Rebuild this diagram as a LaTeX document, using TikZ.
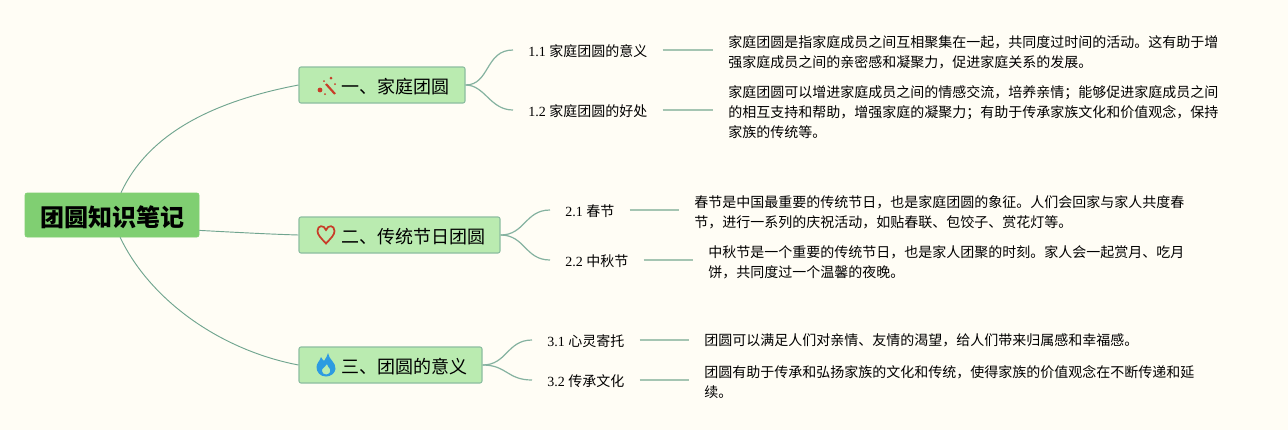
\documentclass[tikz,border=0pt]{standalone}
\usepackage{fontspec}
\setmainfont{Liberation Serif}
\newfontfamily\cjk{Noto Sans CJK SC}
\usetikzlibrary{positioning}
\definecolor{paper}{RGB}{255,253,245}
\definecolor{rootgreen}{RGB}{128,207,114}
\definecolor{boxgreen}{RGB}{186,235,176}
\definecolor{boxline}{RGB}{140,190,160}
\definecolor{rootline}{RGB}{112,165,143}
\definecolor{subline}{RGB}{165,197,178}
\definecolor{wandred}{RGB}{200,60,40}
\definecolor{flameblue}{RGB}{45,155,225}
\newcommand{\dropline}{\rule{0pt}{12.2pt}}
\tikzset{
    rootbox/.style={
        draw=rootgreen,
        fill=rootgreen,
        rounded corners=1.5pt,
        inner sep=0pt,
        minimum width=130.5pt,
        minimum height=33pt,
        text height=19.5pt,
        text depth=2pt,
        font=\cjk\bfseries\fontsize{18}{20}\selectfont
    },
    branchbox/.style={
        draw=boxline,
        line width=0.8pt,
        fill=boxgreen,
        rounded corners=1.5pt,
        inner sep=0pt,
        minimum height=27pt,
        text height=14.1pt,
        text depth=1.6pt,
        font=\cjk\fontsize{13.5}{16}\selectfont
    },
    sublabel/.style={
        anchor=west,
        inner xsep=11.25pt,
        inner ysep=2pt,
        text height=10.3pt,
        text depth=1.3pt,
        font=\fontsize{10.5}{15}\selectfont
    },
    detail/.style={
        anchor=west,
        inner xsep=11.25pt,
        inner ysep=2pt,
        align=left,
        font=\cjk\fontsize{10.5}{15}\selectfont
    },
    mainlink/.style={line width=0.7pt,rootline},
    forklink/.style={line width=0.9pt,rootline!85},
    sublink/.style={line width=1.2pt,subline}
}
\begin{document}
\begin{tikzpicture}[x=0.75pt,y=-0.75pt]
    \useasboundingbox[fill=paper] (0,0) rectangle (1288,430);

    \node[rootbox] (root) at (112,215) {团圆知识笔记};
    \node[branchbox,minimum width=124.5pt] (b1) at (382,85) {\hspace*{20.25pt}一、家庭团圆};
    \node[branchbox,minimum width=150.75pt] (b2) at (399.5,235) {\hspace*{20.25pt}二、传统节日团圆};
    \node[branchbox,minimum width=137.25pt] (b3) at (390.5,365) {\hspace*{20.25pt}三、团圆的意义};

    \node[sublabel] (s11) at (513,50) {1.1 {\cjk 家庭团圆的意义}};
    \node[sublabel] (s12) at (513,110) {1.2 {\cjk 家庭团圆的好处}};
    \node[sublabel] (s21) at (550,210) {2.1 {\cjk 春节}};
    \node[sublabel] (s22) at (550,260) {2.2 {\cjk 中秋节}};
    \node[sublabel] (s31) at (532,340) {3.1 {\cjk 心灵寄托}};
    \node[sublabel] (s32) at (532,380) {3.2 {\cjk 传承文化}};

    \node[detail] (d11) at (713,50) {\dropline 家庭团圆是指家庭成员之间互相聚集在一起，共同度过时间的活动。这有助于增\\强家庭成员之间的亲密感和凝聚力，促进家庭关系的发展。};
    \node[detail] (d12) at (713,110) {\dropline 家庭团圆可以增进家庭成员之间的情感交流，培养亲情；能够促进家庭成员之间\\的相互支持和帮助，增强家庭的凝聚力；有助于传承家族文化和价值观念，保持\\家族的传统等。};
    \node[detail] (d21) at (679,210) {\dropline 春节是中国最重要的传统节日，也是家庭团圆的象征。人们会回家与家人共度春\\节，进行一系列的庆祝活动，如贴春联、包饺子、赏花灯等。};
    \node[detail] (d22) at (693,260) {\dropline 中秋节是一个重要的传统节日，也是家人团聚的时刻。家人会一起赏月、吃月\\饼，共同度过一个温馨的夜晚。};
    \node[detail] (d31) at (689,340) {团圆可以满足人们对亲情、友情的渴望，给人们带来归属感和幸福感。};
    \node[detail] (d32) at (689,380) {\dropline 团圆有助于传承和弘扬家族的文化和传统，使得家族的价值观念在不断传递和延\\续。};

    % root to branches
    \draw[mainlink] (root.68) .. controls (150,130) and (220,100) .. (b1.west);
    \draw[mainlink] (root.-10) .. controls (230,232) and (265,234) .. (b2.west);
    \draw[mainlink] (root.-70) .. controls (150,300) and (220,350) .. (b3.west);

    % branches to labels
    \draw[forklink] (b1.east) .. controls (490,85) and (485,50) .. (s11.west);
    \draw[forklink] (b1.east) .. controls (485,85) and (490,110) .. (s12.west);
    \draw[forklink] (b2.east) .. controls (525,235) and (525,210) .. (s21.west);
    \draw[forklink] (b2.east) .. controls (525,235) and (525,260) .. (s22.west);
    \draw[forklink] (b3.east) .. controls (507,365) and (507,340) .. (s31.west);
    \draw[forklink] (b3.east) .. controls (507,365) and (507,380) .. (s32.west);

    % labels to details
    \draw[sublink] (s11.east) -- (d11.west);
    \draw[sublink] (s12.east) -- (d12.west);
    \draw[sublink] (s21.east) -- (d21.west);
    \draw[sublink] (s22.east) -- (d22.west);
    \draw[sublink] (s31.east) -- (d31.west);
    \draw[sublink] (s32.east) -- (d32.west);

    % icons
    \draw[wandred,line width=1.6pt] (326,84) -- (335,94);
    \fill[wandred] (320,90) circle (2.4) (331,78) circle (1.5) (324,81) circle (1) (335,84) circle (1) (325,94) circle (1);
    \draw[wandred,line width=1.3pt] (326,243.5) .. controls (321,238) and (317.5,235) .. (317.5,231)
        .. controls (317.5,225) and (324,224.5) .. (326,230)
        .. controls (328,224.5) and (334.5,225) .. (334.5,231)
        .. controls (334.5,235) and (331,238) .. (326,243.5) -- cycle;
    \fill[flameblue,even odd rule] (328,353) .. controls (329,360) and (336,362) .. (335.5,369)
        .. controls (335,373) and (331,376.5) .. (326,376.5)
        .. controls (320,376.5) and (316.5,372) .. (316.5,367)
        .. controls (316.5,363) and (320,361) .. (321,357)
        .. controls (322,359) and (323,360) .. (324,361)
        .. controls (325,359) and (327,357) .. (328,353) -- cycle
        (326,374.5) .. controls (329,374.5) and (331,372) .. (330,369)
        .. controls (329,367) and (327,366) .. (327,364)
        .. controls (325,367) and (321,369) .. (322,371)
        .. controls (322,373) and (324,374.5) .. (326,374.5) -- cycle;
\end{tikzpicture}
\end{document}
